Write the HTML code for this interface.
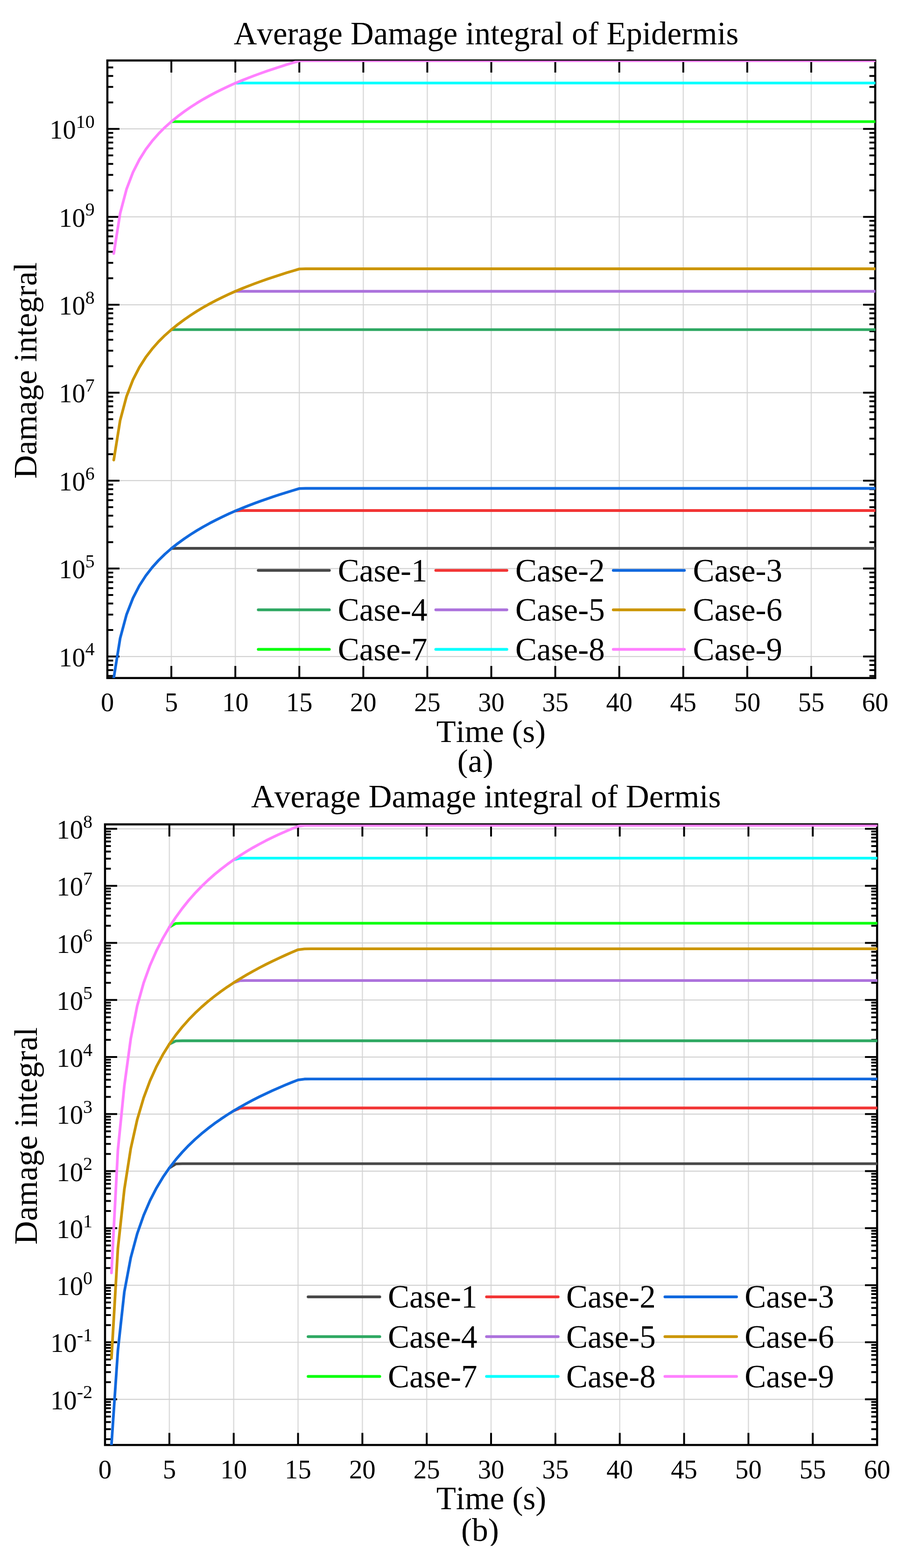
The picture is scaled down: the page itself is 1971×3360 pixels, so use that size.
<!DOCTYPE html>
<html><head><meta charset="utf-8"><title>Average Damage integral</title>
<style>html,body{margin:0;padding:0;background:#fff;}body{width:1971px;height:3360px;overflow:hidden;}svg{display:block;}</style>
</head><body>
<svg width="1971" height="3360" viewBox="0 0 1971 3360" font-family="'Liberation Serif','Times New Roman',serif" fill="#000" style="font-kerning:none"><rect width="1971" height="3360" fill="#fff"/><path d="M367.09,129.60V1452.90M504.18,129.60V1452.90M641.27,129.60V1452.90M778.37,129.60V1452.90M915.46,129.60V1452.90M1052.55,129.60V1452.90M1189.64,129.60V1452.90M1326.73,129.60V1452.90M1463.83,129.60V1452.90M1600.92,129.60V1452.90M1738.01,129.60V1452.90" stroke="#dcdcdc" stroke-width="2.6" fill="none"/><path d="M230.00,1406.78H1875.10M230.00,1218.35H1875.10M230.00,1029.92H1875.10M230.00,841.49H1875.10M230.00,653.06H1875.10M230.00,464.63H1875.10M230.00,276.20H1875.10" stroke="#d2d2d2" stroke-width="2.3" fill="none"/><path d="M367.09,129.60v26.0M367.09,1452.90v-26.0M504.18,129.60v26.0M504.18,1452.90v-26.0M641.27,129.60v26.0M641.27,1452.90v-26.0M778.37,129.60v26.0M778.37,1452.90v-26.0M915.46,129.60v26.0M915.46,1452.90v-26.0M1052.55,129.60v26.0M1052.55,1452.90v-26.0M1189.64,129.60v26.0M1189.64,1452.90v-26.0M1326.73,129.60v26.0M1326.73,1452.90v-26.0M1463.83,129.60v26.0M1463.83,1452.90v-26.0M1600.92,129.60v26.0M1600.92,1452.90v-26.0M1738.01,129.60v26.0M1738.01,1452.90v-26.0M230.00,1448.58h12.5M1875.10,1448.58h-12.5M230.00,1435.97h12.5M1875.10,1435.97h-12.5M230.00,1425.04h12.5M1875.10,1425.04h-12.5M230.00,1415.40h12.5M1875.10,1415.40h-12.5M230.00,1406.78h26.0M1875.10,1406.78h-26.0M230.00,1350.06h12.5M1875.10,1350.06h-12.5M230.00,1316.88h12.5M1875.10,1316.88h-12.5M230.00,1293.33h12.5M1875.10,1293.33h-12.5M230.00,1275.07h12.5M1875.10,1275.07h-12.5M230.00,1260.15h12.5M1875.10,1260.15h-12.5M230.00,1247.54h12.5M1875.10,1247.54h-12.5M230.00,1236.61h12.5M1875.10,1236.61h-12.5M230.00,1226.97h12.5M1875.10,1226.97h-12.5M230.00,1218.35h26.0M1875.10,1218.35h-26.0M230.00,1161.63h12.5M1875.10,1161.63h-12.5M230.00,1128.45h12.5M1875.10,1128.45h-12.5M230.00,1104.90h12.5M1875.10,1104.90h-12.5M230.00,1086.64h12.5M1875.10,1086.64h-12.5M230.00,1071.72h12.5M1875.10,1071.72h-12.5M230.00,1059.11h12.5M1875.10,1059.11h-12.5M230.00,1048.18h12.5M1875.10,1048.18h-12.5M230.00,1038.54h12.5M1875.10,1038.54h-12.5M230.00,1029.92h26.0M1875.10,1029.92h-26.0M230.00,973.20h12.5M1875.10,973.20h-12.5M230.00,940.02h12.5M1875.10,940.02h-12.5M230.00,916.47h12.5M1875.10,916.47h-12.5M230.00,898.21h12.5M1875.10,898.21h-12.5M230.00,883.29h12.5M1875.10,883.29h-12.5M230.00,870.68h12.5M1875.10,870.68h-12.5M230.00,859.75h12.5M1875.10,859.75h-12.5M230.00,850.11h12.5M1875.10,850.11h-12.5M230.00,841.49h26.0M1875.10,841.49h-26.0M230.00,784.77h12.5M1875.10,784.77h-12.5M230.00,751.59h12.5M1875.10,751.59h-12.5M230.00,728.04h12.5M1875.10,728.04h-12.5M230.00,709.78h12.5M1875.10,709.78h-12.5M230.00,694.86h12.5M1875.10,694.86h-12.5M230.00,682.25h12.5M1875.10,682.25h-12.5M230.00,671.32h12.5M1875.10,671.32h-12.5M230.00,661.68h12.5M1875.10,661.68h-12.5M230.00,653.06h26.0M1875.10,653.06h-26.0M230.00,596.34h12.5M1875.10,596.34h-12.5M230.00,563.16h12.5M1875.10,563.16h-12.5M230.00,539.61h12.5M1875.10,539.61h-12.5M230.00,521.35h12.5M1875.10,521.35h-12.5M230.00,506.43h12.5M1875.10,506.43h-12.5M230.00,493.82h12.5M1875.10,493.82h-12.5M230.00,482.89h12.5M1875.10,482.89h-12.5M230.00,473.25h12.5M1875.10,473.25h-12.5M230.00,464.63h26.0M1875.10,464.63h-26.0M230.00,407.91h12.5M1875.10,407.91h-12.5M230.00,374.73h12.5M1875.10,374.73h-12.5M230.00,351.18h12.5M1875.10,351.18h-12.5M230.00,332.92h12.5M1875.10,332.92h-12.5M230.00,318.00h12.5M1875.10,318.00h-12.5M230.00,305.39h12.5M1875.10,305.39h-12.5M230.00,294.46h12.5M1875.10,294.46h-12.5M230.00,284.82h12.5M1875.10,284.82h-12.5M230.00,276.20h26.0M1875.10,276.20h-26.0M230.00,219.48h12.5M1875.10,219.48h-12.5M230.00,186.30h12.5M1875.10,186.30h-12.5M230.00,162.75h12.5M1875.10,162.75h-12.5M230.00,144.49h12.5M1875.10,144.49h-12.5" stroke="#000" stroke-width="4" fill="none"/><rect x="230.00" y="129.60" width="1645.10" height="1323.30" stroke="#000" stroke-width="4.5" fill="none"/><clipPath id="ca"><rect x="229.00" y="130.10" width="1646.60" height="1322.80"/></clipPath><g clip-path="url(#ca)" fill="none" stroke-width="5.8" stroke-linejoin="round" stroke-linecap="round"><path d="M367.09,1175.39L380.80,1175.02L394.51,1175.01L1875.10,1175.01" stroke="#484848"/><path d="M367.09,706.39L380.80,706.39L394.51,706.39L1875.10,706.39" stroke="#2ea862"/><path d="M367.09,260.56L380.80,260.56L394.51,260.56L1875.10,260.56" stroke="#06ff0a"/><path d="M504.18,1094.93L517.89,1094.01L531.60,1093.99L1875.10,1093.99" stroke="#f23535"/><path d="M504.18,624.23L517.89,624.23L531.60,624.23L1875.10,624.23" stroke="#ac72dc"/><path d="M504.18,178.22L517.89,177.85L531.60,177.84L1875.10,177.84" stroke="#05ffff"/><path d="M243.71,1452.95L257.42,1367.77L271.13,1316.83L284.84,1281.59L298.55,1255.00L312.25,1233.72L325.96,1215.98L339.67,1200.74L353.38,1187.35L367.09,1175.39L380.80,1164.53L394.51,1154.57L408.22,1145.35L421.93,1136.76L435.64,1128.72L449.35,1121.18L463.06,1114.07L476.76,1107.35L490.47,1100.98L504.18,1094.93L517.89,1089.22L531.60,1083.76L545.31,1078.52L559.02,1073.49L572.73,1068.65L586.44,1063.99L600.15,1059.49L613.86,1055.15L627.57,1050.95L641.27,1046.88L654.98,1046.51L668.69,1046.50L1875.10,1046.50" stroke="#1068de"/><path d="M243.71,985.83L257.42,900.66L271.13,849.33L284.84,813.89L298.55,787.09L312.25,765.60L325.96,747.64L339.67,732.17L353.38,718.56L367.09,706.39L380.80,695.30L394.51,685.09L408.22,675.62L421.93,666.81L435.64,658.58L449.35,650.87L463.06,643.62L476.76,636.80L490.47,630.34L504.18,624.23L517.89,618.55L531.60,613.11L545.31,607.89L559.02,602.88L572.73,598.06L586.44,593.41L600.15,588.93L613.86,584.60L627.57,580.42L641.27,576.37L654.98,576.00L668.69,575.99L1875.10,575.99" stroke="#cb9500"/><path d="M243.71,543.21L257.42,457.09L271.13,405.21L284.84,369.27L298.55,342.10L312.25,320.33L325.96,302.16L339.67,286.54L353.38,272.82L367.09,260.56L380.80,249.42L394.51,239.17L408.22,229.67L421.93,220.84L435.64,212.60L449.35,204.88L463.06,197.63L476.76,190.79L490.47,184.33L504.18,178.22L517.89,172.53L531.60,167.09L545.31,161.87L559.02,156.86L572.73,152.04L586.44,147.40L600.15,142.92L613.86,138.59L627.57,134.41L641.27,130.36L654.98,129.99L668.69,129.98L1875.10,129.98" stroke="#ff80ff"/></g><text x="202.80" y="1427.78" text-anchor="end" font-size="56.5">10<tspan dy="-23.3" font-size="40.0">4</tspan></text><text x="202.80" y="1239.35" text-anchor="end" font-size="56.5">10<tspan dy="-23.3" font-size="40.0">5</tspan></text><text x="202.80" y="1050.92" text-anchor="end" font-size="56.5">10<tspan dy="-23.3" font-size="40.0">6</tspan></text><text x="202.80" y="862.49" text-anchor="end" font-size="56.5">10<tspan dy="-23.3" font-size="40.0">7</tspan></text><text x="202.80" y="674.06" text-anchor="end" font-size="56.5">10<tspan dy="-23.3" font-size="40.0">8</tspan></text><text x="202.80" y="485.63" text-anchor="end" font-size="56.5">10<tspan dy="-23.3" font-size="40.0">9</tspan></text><text x="202.80" y="297.20" text-anchor="end" font-size="56.5">10<tspan dy="-23.3" font-size="40.0">10</tspan></text><text x="230.00" y="1524.30" text-anchor="middle" font-size="56.5">0</text><text x="367.09" y="1524.30" text-anchor="middle" font-size="56.5">5</text><text x="504.18" y="1524.30" text-anchor="middle" font-size="56.5">10</text><text x="641.27" y="1524.30" text-anchor="middle" font-size="56.5">15</text><text x="778.37" y="1524.30" text-anchor="middle" font-size="56.5">20</text><text x="915.46" y="1524.30" text-anchor="middle" font-size="56.5">25</text><text x="1052.55" y="1524.30" text-anchor="middle" font-size="56.5">30</text><text x="1189.64" y="1524.30" text-anchor="middle" font-size="56.5">35</text><text x="1326.73" y="1524.30" text-anchor="middle" font-size="56.5">40</text><text x="1463.83" y="1524.30" text-anchor="middle" font-size="56.5">45</text><text x="1600.92" y="1524.30" text-anchor="middle" font-size="56.5">50</text><text x="1738.01" y="1524.30" text-anchor="middle" font-size="56.5">55</text><text x="1875.10" y="1524.30" text-anchor="middle" font-size="56.5">60</text><text x="1041.60" y="94.50" text-anchor="middle" font-size="68.82">Average Damage integral of Epidermis</text><text transform="translate(77.80,793.90) rotate(-90)" text-anchor="middle" font-size="69.9">Damage integral</text><text x="1052.00" y="1590.00" text-anchor="middle" font-size="68.6">Time (s)</text><clipPath id="cas"><rect x="900" y="1573.90" width="250" height="93.00"/></clipPath><text clip-path="url(#cas)" x="1018.30" y="1653.90" text-anchor="middle" font-size="69.5">(a)</text><path d="M553.30,1222.20h152.30" stroke="#484848" stroke-width="6" stroke-linecap="round" fill="none"/><text x="723.80" y="1245.70" font-size="69">Case-1</text><path d="M933.60,1222.20h152.30" stroke="#f23535" stroke-width="6" stroke-linecap="round" fill="none"/><text x="1104.10" y="1245.70" font-size="69">Case-2</text><path d="M1313.90,1222.20h152.30" stroke="#1068de" stroke-width="6" stroke-linecap="round" fill="none"/><text x="1484.40" y="1245.70" font-size="69">Case-3</text><path d="M553.30,1306.85h152.30" stroke="#2ea862" stroke-width="6" stroke-linecap="round" fill="none"/><text x="723.80" y="1330.35" font-size="69">Case-4</text><path d="M933.60,1306.85h152.30" stroke="#ac72dc" stroke-width="6" stroke-linecap="round" fill="none"/><text x="1104.10" y="1330.35" font-size="69">Case-5</text><path d="M1313.90,1306.85h152.30" stroke="#cb9500" stroke-width="6" stroke-linecap="round" fill="none"/><text x="1484.40" y="1330.35" font-size="69">Case-6</text><path d="M553.30,1391.50h152.30" stroke="#06ff0a" stroke-width="6" stroke-linecap="round" fill="none"/><text x="723.80" y="1415.00" font-size="69">Case-7</text><path d="M933.60,1391.50h152.30" stroke="#05ffff" stroke-width="6" stroke-linecap="round" fill="none"/><text x="1104.10" y="1415.00" font-size="69">Case-8</text><path d="M1313.90,1391.50h152.30" stroke="#ff80ff" stroke-width="6" stroke-linecap="round" fill="none"/><text x="1484.40" y="1415.00" font-size="69">Case-9</text><path d="M362.84,1766.50V3096.40M500.68,1766.50V3096.40M638.52,1766.50V3096.40M776.37,1766.50V3096.40M914.21,1766.50V3096.40M1052.05,1766.50V3096.40M1189.89,1766.50V3096.40M1327.73,1766.50V3096.40M1465.58,1766.50V3096.40M1603.42,1766.50V3096.40M1741.26,1766.50V3096.40" stroke="#dcdcdc" stroke-width="2.6" fill="none"/><path d="M225.00,2998.60H1879.10M225.00,2876.35H1879.10M225.00,2754.10H1879.10M225.00,2631.85H1879.10M225.00,2509.60H1879.10M225.00,2387.35H1879.10M225.00,2265.10H1879.10M225.00,2142.85H1879.10M225.00,2020.60H1879.10M225.00,1898.35H1879.10M225.00,1776.10H1879.10" stroke="#d2d2d2" stroke-width="2.3" fill="none"/><path d="M362.84,1766.50v26.0M362.84,3096.40v-26.0M500.68,1766.50v26.0M500.68,3096.40v-26.0M638.52,1766.50v26.0M638.52,3096.40v-26.0M776.37,1766.50v26.0M776.37,3096.40v-26.0M914.21,1766.50v26.0M914.21,3096.40v-26.0M1052.05,1766.50v26.0M1052.05,3096.40v-26.0M1189.89,1766.50v26.0M1189.89,3096.40v-26.0M1327.73,1766.50v26.0M1327.73,3096.40v-26.0M1465.58,1766.50v26.0M1465.58,3096.40v-26.0M1603.42,1766.50v26.0M1603.42,3096.40v-26.0M1741.26,1766.50v26.0M1741.26,3096.40v-26.0M225.00,3084.05h12.5M1879.10,3084.05h-12.5M225.00,3062.52h12.5M1879.10,3062.52h-12.5M225.00,3047.25h12.5M1879.10,3047.25h-12.5M225.00,3035.40h12.5M1879.10,3035.40h-12.5M225.00,3025.72h12.5M1879.10,3025.72h-12.5M225.00,3017.54h12.5M1879.10,3017.54h-12.5M225.00,3010.45h12.5M1879.10,3010.45h-12.5M225.00,3004.19h12.5M1879.10,3004.19h-12.5M225.00,2998.60h26.0M1879.10,2998.60h-26.0M225.00,2961.80h12.5M1879.10,2961.80h-12.5M225.00,2940.27h12.5M1879.10,2940.27h-12.5M225.00,2925.00h12.5M1879.10,2925.00h-12.5M225.00,2913.15h12.5M1879.10,2913.15h-12.5M225.00,2903.47h12.5M1879.10,2903.47h-12.5M225.00,2895.29h12.5M1879.10,2895.29h-12.5M225.00,2888.20h12.5M1879.10,2888.20h-12.5M225.00,2881.94h12.5M1879.10,2881.94h-12.5M225.00,2876.35h26.0M1879.10,2876.35h-26.0M225.00,2839.55h12.5M1879.10,2839.55h-12.5M225.00,2818.02h12.5M1879.10,2818.02h-12.5M225.00,2802.75h12.5M1879.10,2802.75h-12.5M225.00,2790.90h12.5M1879.10,2790.90h-12.5M225.00,2781.22h12.5M1879.10,2781.22h-12.5M225.00,2773.04h12.5M1879.10,2773.04h-12.5M225.00,2765.95h12.5M1879.10,2765.95h-12.5M225.00,2759.69h12.5M1879.10,2759.69h-12.5M225.00,2754.10h26.0M1879.10,2754.10h-26.0M225.00,2717.30h12.5M1879.10,2717.30h-12.5M225.00,2695.77h12.5M1879.10,2695.77h-12.5M225.00,2680.50h12.5M1879.10,2680.50h-12.5M225.00,2668.65h12.5M1879.10,2668.65h-12.5M225.00,2658.97h12.5M1879.10,2658.97h-12.5M225.00,2650.79h12.5M1879.10,2650.79h-12.5M225.00,2643.70h12.5M1879.10,2643.70h-12.5M225.00,2637.44h12.5M1879.10,2637.44h-12.5M225.00,2631.85h26.0M1879.10,2631.85h-26.0M225.00,2595.05h12.5M1879.10,2595.05h-12.5M225.00,2573.52h12.5M1879.10,2573.52h-12.5M225.00,2558.25h12.5M1879.10,2558.25h-12.5M225.00,2546.40h12.5M1879.10,2546.40h-12.5M225.00,2536.72h12.5M1879.10,2536.72h-12.5M225.00,2528.54h12.5M1879.10,2528.54h-12.5M225.00,2521.45h12.5M1879.10,2521.45h-12.5M225.00,2515.19h12.5M1879.10,2515.19h-12.5M225.00,2509.60h26.0M1879.10,2509.60h-26.0M225.00,2472.80h12.5M1879.10,2472.80h-12.5M225.00,2451.27h12.5M1879.10,2451.27h-12.5M225.00,2436.00h12.5M1879.10,2436.00h-12.5M225.00,2424.15h12.5M1879.10,2424.15h-12.5M225.00,2414.47h12.5M1879.10,2414.47h-12.5M225.00,2406.29h12.5M1879.10,2406.29h-12.5M225.00,2399.20h12.5M1879.10,2399.20h-12.5M225.00,2392.94h12.5M1879.10,2392.94h-12.5M225.00,2387.35h26.0M1879.10,2387.35h-26.0M225.00,2350.55h12.5M1879.10,2350.55h-12.5M225.00,2329.02h12.5M1879.10,2329.02h-12.5M225.00,2313.75h12.5M1879.10,2313.75h-12.5M225.00,2301.90h12.5M1879.10,2301.90h-12.5M225.00,2292.22h12.5M1879.10,2292.22h-12.5M225.00,2284.04h12.5M1879.10,2284.04h-12.5M225.00,2276.95h12.5M1879.10,2276.95h-12.5M225.00,2270.69h12.5M1879.10,2270.69h-12.5M225.00,2265.10h26.0M1879.10,2265.10h-26.0M225.00,2228.30h12.5M1879.10,2228.30h-12.5M225.00,2206.77h12.5M1879.10,2206.77h-12.5M225.00,2191.50h12.5M1879.10,2191.50h-12.5M225.00,2179.65h12.5M1879.10,2179.65h-12.5M225.00,2169.97h12.5M1879.10,2169.97h-12.5M225.00,2161.79h12.5M1879.10,2161.79h-12.5M225.00,2154.70h12.5M1879.10,2154.70h-12.5M225.00,2148.44h12.5M1879.10,2148.44h-12.5M225.00,2142.85h26.0M1879.10,2142.85h-26.0M225.00,2106.05h12.5M1879.10,2106.05h-12.5M225.00,2084.52h12.5M1879.10,2084.52h-12.5M225.00,2069.25h12.5M1879.10,2069.25h-12.5M225.00,2057.40h12.5M1879.10,2057.40h-12.5M225.00,2047.72h12.5M1879.10,2047.72h-12.5M225.00,2039.54h12.5M1879.10,2039.54h-12.5M225.00,2032.45h12.5M1879.10,2032.45h-12.5M225.00,2026.19h12.5M1879.10,2026.19h-12.5M225.00,2020.60h26.0M1879.10,2020.60h-26.0M225.00,1983.80h12.5M1879.10,1983.80h-12.5M225.00,1962.27h12.5M1879.10,1962.27h-12.5M225.00,1947.00h12.5M1879.10,1947.00h-12.5M225.00,1935.15h12.5M1879.10,1935.15h-12.5M225.00,1925.47h12.5M1879.10,1925.47h-12.5M225.00,1917.29h12.5M1879.10,1917.29h-12.5M225.00,1910.20h12.5M1879.10,1910.20h-12.5M225.00,1903.94h12.5M1879.10,1903.94h-12.5M225.00,1898.35h26.0M1879.10,1898.35h-26.0M225.00,1861.55h12.5M1879.10,1861.55h-12.5M225.00,1840.02h12.5M1879.10,1840.02h-12.5M225.00,1824.75h12.5M1879.10,1824.75h-12.5M225.00,1812.90h12.5M1879.10,1812.90h-12.5M225.00,1803.22h12.5M1879.10,1803.22h-12.5M225.00,1795.04h12.5M1879.10,1795.04h-12.5M225.00,1787.95h12.5M1879.10,1787.95h-12.5M225.00,1781.69h12.5M1879.10,1781.69h-12.5M225.00,1776.10h26.0M1879.10,1776.10h-26.0" stroke="#000" stroke-width="4" fill="none"/><rect x="225.00" y="1766.50" width="1654.10" height="1329.90" stroke="#000" stroke-width="4.5" fill="none"/><clipPath id="cb"><rect x="224.00" y="1767.00" width="1655.60" height="1329.40"/></clipPath><g clip-path="url(#cb)" fill="none" stroke-width="5.8" stroke-linejoin="round" stroke-linecap="round"><path d="M362.84,2502.69L376.63,2494.16L390.41,2493.71L1879.10,2493.71" stroke="#484848"/><path d="M362.84,2237.36L376.63,2230.61L390.41,2230.26L1879.10,2230.26" stroke="#2ea862"/><path d="M362.84,1986.67L376.63,1978.84L390.41,1978.42L1879.10,1978.42" stroke="#06ff0a"/><path d="M500.68,2380.29L514.47,2374.57L528.25,2374.27L1879.10,2374.27" stroke="#f23535"/><path d="M500.68,2105.83L514.47,2101.28L528.25,2101.04L1879.10,2101.04" stroke="#ac72dc"/><path d="M500.68,1842.34L514.47,1838.99L528.25,1838.81L1879.10,1838.81" stroke="#05ffff"/><path d="M238.78,3096.40L252.57,2893.76L266.35,2768.39L280.14,2695.08L293.92,2643.79L307.70,2604.40L321.49,2572.45L335.27,2545.68L349.06,2522.73L362.84,2502.69L376.63,2484.93L390.41,2469.01L404.19,2454.60L417.98,2441.44L431.76,2429.34L445.55,2418.15L459.33,2407.74L473.12,2398.01L486.90,2388.88L500.68,2380.29L514.47,2372.16L528.25,2364.47L542.04,2357.15L555.82,2350.18L569.60,2343.53L583.39,2337.16L597.17,2331.05L610.96,2325.19L624.74,2319.55L638.52,2314.12L652.31,2312.26L666.09,2312.17L1879.10,2312.17" stroke="#1068de"/><path d="M238.78,2910.70L252.57,2675.07L266.35,2548.80L280.14,2461.12L293.92,2399.43L307.70,2352.76L321.49,2315.71L335.27,2285.26L349.06,2259.54L362.84,2237.36L376.63,2217.91L390.41,2200.62L404.19,2185.06L417.98,2170.94L431.76,2158.00L445.55,2146.06L459.33,2134.99L473.12,2124.65L486.90,2114.96L500.68,2105.83L514.47,2097.20L528.25,2089.01L542.04,2081.22L555.82,2073.79L569.60,2066.68L583.39,2059.86L597.17,2053.30L610.96,2046.99L624.74,2040.90L638.52,2035.02L652.31,2033.28L666.09,2033.19L1879.10,2033.19" stroke="#cb9500"/><path d="M238.78,2727.57L252.57,2464.48L266.35,2326.99L280.14,2225.80L293.92,2155.63L307.70,2106.22L321.49,2068.30L335.27,2037.17L349.06,2010.34L362.84,1986.67L376.63,1965.58L390.41,1946.61L404.19,1929.44L417.98,1913.79L431.76,1899.45L445.55,1886.25L459.33,1874.04L473.12,1862.72L486.90,1852.18L500.68,1842.34L514.47,1833.13L528.25,1824.49L542.04,1816.36L555.82,1808.70L569.60,1801.47L583.39,1794.64L597.17,1788.17L610.96,1782.03L624.74,1776.20L638.52,1770.66L652.31,1768.63L666.09,1768.52L1879.10,1768.52" stroke="#ff80ff"/></g><text x="198.20" y="3019.60" text-anchor="end" font-size="56.8">10<tspan dy="-23.3" font-size="40.2">-2</tspan></text><text x="198.20" y="2897.35" text-anchor="end" font-size="56.8">10<tspan dy="-23.3" font-size="40.2">-1</tspan></text><text x="198.20" y="2775.10" text-anchor="end" font-size="56.8">10<tspan dy="-23.3" font-size="40.2">0</tspan></text><text x="198.20" y="2652.85" text-anchor="end" font-size="56.8">10<tspan dy="-23.3" font-size="40.2">1</tspan></text><text x="198.20" y="2530.60" text-anchor="end" font-size="56.8">10<tspan dy="-23.3" font-size="40.2">2</tspan></text><text x="198.20" y="2408.35" text-anchor="end" font-size="56.8">10<tspan dy="-23.3" font-size="40.2">3</tspan></text><text x="198.20" y="2286.10" text-anchor="end" font-size="56.8">10<tspan dy="-23.3" font-size="40.2">4</tspan></text><text x="198.20" y="2163.85" text-anchor="end" font-size="56.8">10<tspan dy="-23.3" font-size="40.2">5</tspan></text><text x="198.20" y="2041.60" text-anchor="end" font-size="56.8">10<tspan dy="-23.3" font-size="40.2">6</tspan></text><text x="198.20" y="1919.35" text-anchor="end" font-size="56.8">10<tspan dy="-23.3" font-size="40.2">7</tspan></text><text x="198.20" y="1797.10" text-anchor="end" font-size="56.8">10<tspan dy="-23.3" font-size="40.2">8</tspan></text><text x="225.00" y="3167.60" text-anchor="middle" font-size="56.8">0</text><text x="362.84" y="3167.60" text-anchor="middle" font-size="56.8">5</text><text x="500.68" y="3167.60" text-anchor="middle" font-size="56.8">10</text><text x="638.52" y="3167.60" text-anchor="middle" font-size="56.8">15</text><text x="776.37" y="3167.60" text-anchor="middle" font-size="56.8">20</text><text x="914.21" y="3167.60" text-anchor="middle" font-size="56.8">25</text><text x="1052.05" y="3167.60" text-anchor="middle" font-size="56.8">30</text><text x="1189.89" y="3167.60" text-anchor="middle" font-size="56.8">35</text><text x="1327.73" y="3167.60" text-anchor="middle" font-size="56.8">40</text><text x="1465.58" y="3167.60" text-anchor="middle" font-size="56.8">45</text><text x="1603.42" y="3167.60" text-anchor="middle" font-size="56.8">50</text><text x="1741.26" y="3167.60" text-anchor="middle" font-size="56.8">55</text><text x="1879.10" y="3167.60" text-anchor="middle" font-size="56.8">60</text><text x="1041.20" y="1730.00" text-anchor="middle" font-size="69.2">Average Damage integral of Dermis</text><text transform="translate(78.50,2434.00) rotate(-90)" text-anchor="middle" font-size="70.2">Damage integral</text><text x="1052.50" y="3234.10" text-anchor="middle" font-size="69.0">Time (s)</text><clipPath id="cbs"><rect x="900" y="3222.00" width="250" height="90.50"/></clipPath><text clip-path="url(#cbs)" x="1028.40" y="3302.00" text-anchor="middle" font-size="69.5">(b)</text><path d="M660.10,2778.90h153.50" stroke="#484848" stroke-width="6" stroke-linecap="round" fill="none"/><text x="830.90" y="2802.40" font-size="69">Case-1</text><path d="M1042.30,2778.90h153.50" stroke="#f23535" stroke-width="6" stroke-linecap="round" fill="none"/><text x="1213.10" y="2802.40" font-size="69">Case-2</text><path d="M1424.50,2778.90h153.50" stroke="#1068de" stroke-width="6" stroke-linecap="round" fill="none"/><text x="1595.30" y="2802.40" font-size="69">Case-3</text><path d="M660.10,2864.15h153.50" stroke="#2ea862" stroke-width="6" stroke-linecap="round" fill="none"/><text x="830.90" y="2887.65" font-size="69">Case-4</text><path d="M1042.30,2864.15h153.50" stroke="#ac72dc" stroke-width="6" stroke-linecap="round" fill="none"/><text x="1213.10" y="2887.65" font-size="69">Case-5</text><path d="M1424.50,2864.15h153.50" stroke="#cb9500" stroke-width="6" stroke-linecap="round" fill="none"/><text x="1595.30" y="2887.65" font-size="69">Case-6</text><path d="M660.10,2949.40h153.50" stroke="#06ff0a" stroke-width="6" stroke-linecap="round" fill="none"/><text x="830.90" y="2972.90" font-size="69">Case-7</text><path d="M1042.30,2949.40h153.50" stroke="#05ffff" stroke-width="6" stroke-linecap="round" fill="none"/><text x="1213.10" y="2972.90" font-size="69">Case-8</text><path d="M1424.50,2949.40h153.50" stroke="#ff80ff" stroke-width="6" stroke-linecap="round" fill="none"/><text x="1595.30" y="2972.90" font-size="69">Case-9</text></svg>
</body></html>
